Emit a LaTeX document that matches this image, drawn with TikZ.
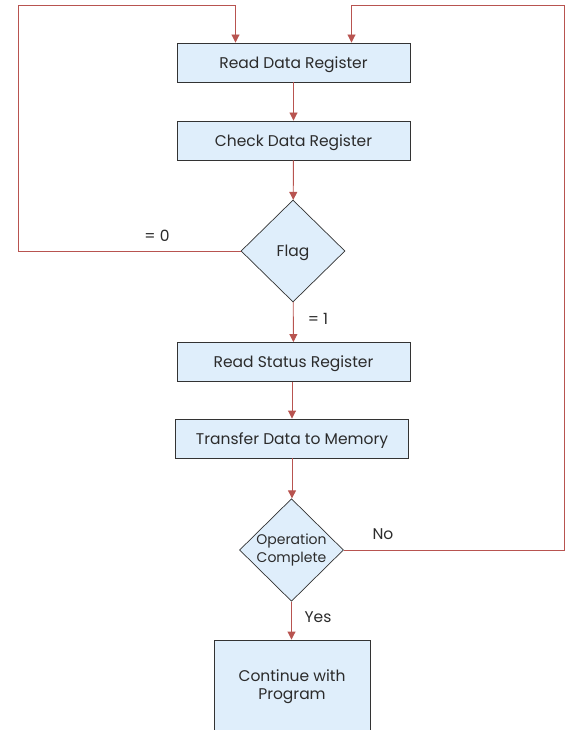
\documentclass[tikz,border=0pt]{standalone}
\usepackage{fontspec}
\setmainfont{Poppins}
\usetikzlibrary{shapes.geometric,arrows.meta}
\definecolor{boxfill}{HTML}{DFEEFB}
\definecolor{linec}{HTML}{B85450}
\definecolor{edgec}{HTML}{333333}
\definecolor{txtc}{HTML}{2B2B2B}
\begin{document}
\begin{tikzpicture}[x=1pt,y=-1pt,
  proc/.style={draw=edgec,fill=boxfill,line width=0.9pt,minimum width=233pt,minimum height=39pt,inner sep=0pt,text=txtc,font=\fontsize{15.5}{18}\selectfont},
  oneline/.style={text depth=0pt},
  dec/.style={draw=edgec,fill=boxfill,line width=0.7pt,diamond,minimum width=104pt,minimum height=102pt,inner sep=0pt,align=center,text=txtc,font=\fontsize{15.5}{18}\selectfont},
  conn/.style={draw=linec,line width=0.9pt,-{Triangle[length=8pt,width=8pt]}},
  lbl/.style={text=txtc,font=\fontsize{15.5}{18}\selectfont}]
\useasboundingbox (0,0) rectangle (567,730);
\begin{scope}
\clip (0,0) rectangle (567,730);
\node[proc,oneline] (rdr) at (293.5,62.5) {Read Data Register};
\node[proc,oneline] (cdr) at (293.5,140.5) {Check Data Register};
\node[dec,oneline] (flag) at (293,251) {Flag};
\node[proc,oneline] (rsr) at (293.5,362) {Read Status Register};
\node[proc,oneline] (tdm) at (292,438.5) {Transfer Data to Memory};
\node[dec,font=\fontsize{14}{18}\selectfont] (opc) at (291.5,550) {\raisebox{-2pt}{Operation}\\\raisebox{-2pt}{Complete}};
\node[proc,minimum width=156pt,minimum height=94pt,align=center] (cwp) at (292,687) {\raisebox{-2pt}{Continue with}\\\raisebox{-2pt}{Program}};
\coordinate (l1) at (18,251);
\coordinate (l2) at (18,5);
\coordinate (l3) at (235.5,5);
\coordinate (r1) at (564,550);
\coordinate (r2) at (564,5);
\coordinate (r3) at (351.5,5);
\draw[conn] (rdr) -- (cdr);
\draw[conn] (cdr) -- (flag);
\draw[conn] (flag) -- (rsr);
\draw[conn] (rsr.south -| tdm.north) -- (tdm);
\draw[conn] (tdm) -- (tdm.south |- opc.north);
\draw[conn] (opc) -- (opc.south |- cwp.north);
\draw[conn] (flag.west) -- (l1) -- (l2) -- (l3) -- (l3 |- rdr.north);
\draw[conn] (opc.east) -- (r1) -- (r2) -- (r3) -- (r3 |- rdr.north);
\node[lbl] (z) at (157,236) {= 0};
\node[lbl] (o) at (318,319) {= 1};
\node[lbl] (no) at (383,534) {No};
\node[lbl] (yes) at (318,617) {Yes};
\end{scope}
\end{tikzpicture}
\end{document}
